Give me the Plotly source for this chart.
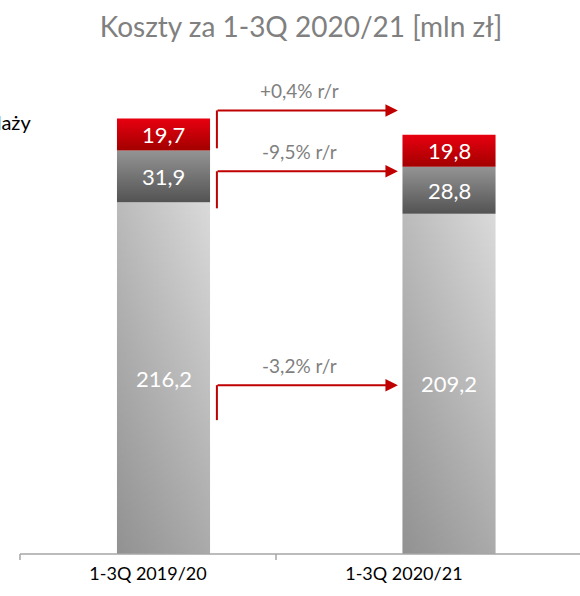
import plotly.graph_objects as go

# ---- data ----
categories = ["1-3Q 2019/20", "1-3Q 2020/21"]
costs_bottom = [216.2, 209.2]
costs_middle = [31.9, 28.8]
costs_top = [19.7, 19.8]
changes = ["-3,2% r/r", "-9,5% r/r", "+0,4% r/r"]
title_text = "Koszty za 1-3Q 2020/21 [mln zł]"
side_label = "Koszty sprzedaży"

# ---- styling / layout constants ----
W, H = 580, 596
FONT = "Lato"
BAR_W = 0.326
XR = [-0.5727, 1.4588]
YR = [0, 300]
M_T, M_B = 66, 42
label_pos = [-0.0543, 0.842]   # category-label centres (between axis ticks)
gradients = [
    dict(type="horizontal", colorscale=[[0, "#bababa"], [1, "#dadada"]]),
    dict(type="vertical", colorscale=[[0, "#535353"], [1, "#949494"]]),
    dict(type="vertical", colorscale=[[0, "#a20000"], [1, "#e8000f"]]),
]
# extra vertical shading over the bottom segment (darker towards the base)
bottom_shade = dict(type="vertical",
                    colorscale=[[0, "rgba(0,0,0,0.22)"], [1, "rgba(0,0,0,0)"]])
arrow_levels = [103.8, 235.3, 272.7]
arrow_starts = [82.3, 212.5, 249.4]
arrow_x0, arrow_x1, label_x = 0.187, 0.821, 0.478
RED = "#c00000"

series = [costs_bottom, costs_middle, costs_top]
xpos = list(range(len(categories)))


def rect_trace(xc, base, v, grad):
    x0, x1 = xc - BAR_W / 2, xc + BAR_W / 2
    return go.Scatter(
        x=[x0, x1, x1, x0, x0],
        y=[base, base, base + v, base + v, base],
        fill="toself", fillgradient=grad,
        mode="lines", line=dict(width=0, color="rgba(0,0,0,0)"),
        hoverinfo="skip", showlegend=False)


fig = go.Figure()
for si, vals in enumerate(series):
    for ci, v in enumerate(vals):
        base = sum(series[k][ci] for k in range(si))
        fig.add_trace(rect_trace(xpos[ci], base, v, gradients[si]))
        if si == 0:
            fig.add_trace(rect_trace(xpos[ci], base, v, bottom_shade))
        fig.add_annotation(x=xpos[ci], y=base + v / 2,
                           text=f"{v:.1f}".replace(".", ","),
                           showarrow=False,
                           font=dict(color="white", size=22, family=FONT))

# change arrows
for lvl, st, txt in zip(arrow_levels, arrow_starts, changes):
    fig.add_shape(type="line", x0=arrow_x0, x1=arrow_x0, y0=st, y1=lvl,
                  xref="x", yref="y", line=dict(color=RED, width=2))
    fig.add_annotation(x=arrow_x1, y=lvl, ax=arrow_x0 - 0.003, ay=lvl,
                       xref="x", yref="y", axref="x", ayref="y",
                       text="", showarrow=True, arrowhead=2, arrowsize=1.25,
                       arrowwidth=2, arrowcolor=RED, standoff=0, startstandoff=0)
    fig.add_annotation(x=label_x, y=lvl, yshift=20, text=txt, showarrow=False,
                       font=dict(color="#7f7f7f", size=19, family=FONT))

# axis line and ticks
ph = H - M_T - M_B
fig.add_shape(type="line", xref="paper", yref="paper", x0=20 / W, x1=1,
              y0=0, y1=0, line=dict(color="#a6a6a6", width=1.5))
for tx in [20, 276]:
    fig.add_shape(type="line", xref="paper", yref="paper", x0=tx / W, x1=tx / W,
                  y0=0, y1=-6 / ph, line=dict(color="#a6a6a6", width=1.5))

# side label (the reference shows it clipped at the left edge)
fig.add_annotation(xref="paper", yref="paper", x=33 / W, y=(H - M_B - 122) / ph,
                   xanchor="right", yanchor="middle", text=side_label,
                   showarrow=False,
                   font=dict(color="black", size=20, family=FONT))

fig.update_layout(
    width=W, height=H,
    margin=dict(l=0, r=0, t=M_T, b=M_B),
    paper_bgcolor="white", plot_bgcolor="white",
    title=dict(text=title_text, x=301 / W, xanchor="center",
               y=1 - 27 / H, yanchor="middle",
               font=dict(color="#808080", size=28, family=FONT)),
    xaxis=dict(range=XR, tickvals=label_pos, ticktext=categories, showgrid=False,
               zeroline=False, showline=False, ticks="",
               tickfont=dict(color="black", size=18, family=FONT),
               ticklabelstandoff=7, fixedrange=True),
    yaxis=dict(range=YR, visible=False, fixedrange=True),
    showlegend=False,
)

fig.write_html("out.html",
               post_script="document.body.style.margin='0';document.body.style.overflow='hidden';",
               config={"displayModeBar": False})
